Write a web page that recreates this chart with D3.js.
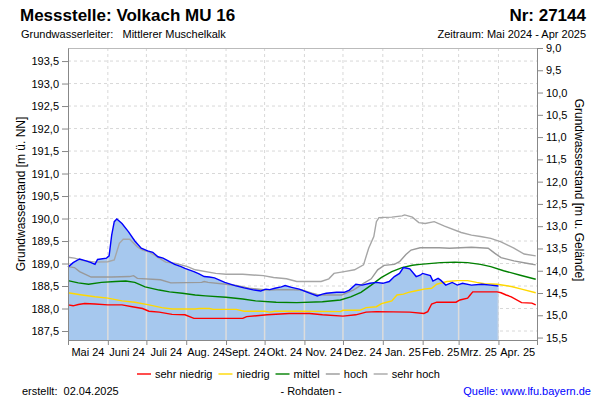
<!DOCTYPE html>
<html><head><meta charset="utf-8">
<script src="https://cdn.jsdelivr.net/npm/d3@7"></script>
<style>body{margin:0;background:#fff} svg{display:block;font-family:"Liberation Sans",Arial,sans-serif}</style>
</head><body><svg id="c" width="600" height="400"></svg>
<script>
const monthLabels = ["Mai 24","Juni 24","Juli 24","Aug. 24","Sept. 24","Okt. 24","Nov. 24","Dez. 24","Jan. 25","Feb. 25","Mrz. 25","Apr. 25"];
const leftTicks = [187.5,188.0,188.5,189.0,189.5,190.0,190.5,191.0,191.5,192.0,192.5,193.0,193.5];
const rightTicks = [9.0,9.5,10.0,10.5,11.0,11.5,12.0,12.5,13.0,13.5,14.0,14.5,15.0,15.5];

const gemessen = [["2024-05-01",188.92],["2024-05-05",189.02],["2024-05-10",189.10],["2024-05-15",189.06],["2024-05-19",189.02],["2024-05-22",188.98],["2024-05-24",189.09],["2024-05-31",189.12],["2024-06-02",189.17],["2024-06-04",189.63],["2024-06-06",189.93],["2024-06-08",189.99],["2024-06-12",189.89],["2024-06-17",189.71],["2024-06-22",189.50],["2024-06-27",189.34],["2024-07-02",189.28],["2024-07-06",189.25],["2024-07-10",189.15],["2024-07-14",189.12],["2024-07-18",189.06],["2024-07-23",188.98],["2024-07-28",188.93],["2024-07-31",188.89],["2024-08-07",188.82],["2024-08-11",188.77],["2024-08-15",188.71],["2024-08-19",188.70],["2024-08-23",188.68],["2024-08-31",188.58],["2024-09-08",188.51],["2024-09-15",188.46],["2024-09-23",188.41],["2024-09-28",188.39],["2024-10-02",188.43],["2024-10-05",188.42],["2024-10-09",188.45],["2024-10-14",188.48],["2024-10-17",188.51],["2024-10-22",188.47],["2024-10-28",188.43],["2024-11-05",188.34],["2024-11-11",188.28],["2024-11-15",188.32],["2024-11-18",188.34],["2024-11-26",188.36],["2024-12-02",188.36],["2024-12-06",188.41],["2024-12-11",188.54],["2024-12-16",188.52],["2024-12-22",188.56],["2024-12-27",188.58],["2025-01-01",188.56],["2025-01-06",188.60],["2025-01-10",188.71],["2025-01-14",188.78],["2025-01-17",188.91],["2025-01-19",188.90],["2025-01-22",188.88],["2025-01-27",188.71],["2025-01-30",188.74],["2025-02-01",188.78],["2025-02-07",188.73],["2025-02-09",188.61],["2025-02-13",188.67],["2025-02-15",188.63],["2025-02-19",188.52],["2025-02-24",188.58],["2025-02-28",188.52],["2025-03-04",188.56],["2025-03-11",188.52],["2025-03-19",188.54],["2025-03-26",188.52],["2025-04-01",188.50]];

const sehrNiedrig = [["2024-05-01",188.08],["2024-05-05",188.06],["2024-05-09",188.09],["2024-05-14",188.11],["2024-05-22",188.10],["2024-06-01",188.08],["2024-06-12",188.08],["2024-06-20",188.04],["2024-06-28",188.00],["2024-07-03",187.94],["2024-07-11",187.92],["2024-07-21",187.87],["2024-07-31",187.86],["2024-08-07",187.78],["2024-09-14",187.78],["2024-09-17",187.82],["2024-10-03",187.86],["2024-10-20",187.89],["2024-11-05",187.89],["2024-11-15",187.86],["2024-12-01",187.83],["2024-12-11",187.86],["2024-12-19",187.92],["2024-12-27",187.93],["2025-01-22",187.92],["2025-02-02",187.89],["2025-02-05",187.93],["2025-02-08",188.10],["2025-02-12",188.14],["2025-02-27",188.14],["2025-03-02",188.19],["2025-03-08",188.23],["2025-03-10",188.30],["2025-03-12",188.37],["2025-03-31",188.37],["2025-04-03",188.35],["2025-04-07",188.30],["2025-04-11",188.26],["2025-04-19",188.13],["2025-04-27",188.12],["2025-04-30",188.08]];

const niedrig = [["2024-05-01",188.35],["2024-05-12",188.30],["2024-05-22",188.26],["2024-06-01",188.23],["2024-06-12",188.17],["2024-06-22",188.14],["2024-07-03",188.08],["2024-07-13",188.02],["2024-07-21",187.99],["2024-08-08",187.99],["2024-08-11",188.00],["2024-08-19",188.00],["2024-08-22",187.98],["2024-09-09",187.98],["2024-09-15",187.94],["2024-10-01",187.94],["2024-10-05",187.92],["2024-10-09",187.94],["2024-10-27",187.94],["2024-11-29",187.93],["2024-12-01",187.96],["2024-12-14",187.96],["2024-12-19",188.02],["2024-12-27",188.04],["2024-12-31",188.11],["2025-01-04",188.14],["2025-01-08",188.17],["2025-01-12",188.30],["2025-01-17",188.32],["2025-01-21",188.36],["2025-01-26",188.39],["2025-02-02",188.43],["2025-02-08",188.45],["2025-02-12",188.54],["2025-02-20",188.60],["2025-02-28",188.62],["2025-03-08",188.62],["2025-03-15",188.58],["2025-03-21",188.55],["2025-03-31",188.54],["2025-04-11",188.49],["2025-04-19",188.43],["2025-04-30",188.35]];

const mittel = [["2024-05-01",188.62],["2024-05-09",188.57],["2024-05-17",188.54],["2024-05-27",188.58],["2024-06-07",188.60],["2024-06-15",188.61],["2024-06-22",188.58],["2024-06-30",188.48],["2024-07-11",188.41],["2024-07-19",188.37],["2024-07-29",188.34],["2024-08-08",188.30],["2024-08-16",188.28],["2024-09-01",188.25],["2024-09-14",188.21],["2024-09-24",188.17],["2024-10-10",188.14],["2024-10-26",188.13],["2024-11-15",188.15],["2024-11-29",188.19],["2024-12-07",188.26],["2024-12-15",188.36],["2024-12-23",188.52],["2024-12-31",188.69],["2025-01-08",188.82],["2025-01-16",188.91],["2025-01-24",188.96],["2025-01-30",188.98],["2025-02-15",189.02],["2025-02-26",189.03],["2025-03-08",189.02],["2025-03-18",188.98],["2025-03-26",188.93],["2025-04-05",188.84],["2025-04-18",188.74],["2025-04-30",188.65]];

const hoch = [["2024-05-01",188.93],["2024-05-06",188.91],["2024-05-10",188.82],["2024-05-19",188.70],["2024-06-04",188.70],["2024-06-18",188.71],["2024-06-21",188.73],["2024-06-24",188.67],["2024-07-12",188.64],["2024-07-20",188.57],["2024-08-13",188.58],["2024-08-15",188.60],["2024-08-18",188.58],["2024-09-01",188.54],["2024-09-09",188.51],["2024-09-19",188.45],["2024-10-03",188.41],["2024-10-17",188.42],["2024-10-30",188.41],["2024-11-07",188.34],["2024-11-12",188.30],["2024-11-30",188.30],["2024-12-09",188.41],["2024-12-13",188.48],["2024-12-17",188.56],["2024-12-23",188.66],["2024-12-28",188.86],["2025-01-02",188.96],["2025-01-10",188.98],["2025-01-14",189.04],["2025-01-19",189.20],["2025-01-23",189.30],["2025-01-30",189.35],["2025-02-14",189.35],["2025-02-22",189.34],["2025-03-11",189.36],["2025-03-24",189.34],["2025-03-29",189.23],["2025-04-03",189.13],["2025-04-13",189.06],["2025-04-24",189.00],["2025-04-30",188.97]];

const sehrHoch = [["2024-05-01",189.14],["2024-05-06",189.12],["2024-05-14",189.06],["2024-05-22",189.03],["2024-06-01",189.04],["2024-06-06",189.08],["2024-06-10",189.45],["2024-06-13",189.54],["2024-06-18",189.54],["2024-06-24",189.37],["2024-06-28",189.30],["2024-07-03",189.26],["2024-07-11",189.12],["2024-07-16",189.03],["2024-07-24",189.00],["2024-08-02",188.93],["2024-08-08",188.86],["2024-08-24",188.78],["2024-09-01",188.76],["2024-09-14",188.76],["2024-09-30",188.73],["2024-10-08",188.69],["2024-10-18",188.66],["2024-10-26",188.60],["2024-11-14",188.60],["2024-11-20",188.66],["2024-11-24",188.78],["2024-12-02",188.82],["2024-12-10",188.86],["2024-12-17",188.97],["2024-12-21",189.34],["2024-12-25",189.60],["2024-12-27",189.93],["2024-12-29",190.02],["2025-01-08",190.03],["2025-01-16",190.06],["2025-01-18",190.08],["2025-01-24",190.03],["2025-01-29",189.91],["2025-02-03",189.89],["2025-02-10",189.93],["2025-02-18",189.83],["2025-03-03",189.69],["2025-03-11",189.63],["2025-03-18",189.60],["2025-03-26",189.56],["2025-04-03",189.48],["2025-04-13",189.34],["2025-04-21",189.21],["2025-04-30",189.17]];

const legendItems = [["sehr niedrig","#ff0000"],["niedrig","#ffd800"],["mittel","#008000"],["hoch","#999999"],["sehr hoch","#a6a6a6"]];

const svg = d3.select("#c");
const m = {left:68, right:537, top:48, bottom:340};
const parse = d3.timeParse("%Y-%m-%d");
const prep = arr => arr.map(d => ({date: parse(d[0]), v: d[1]}));

const x = d3.scaleTime().domain([parse("2024-05-01"), parse("2025-05-01")]).range([m.left, m.right]);
const y = d3.scaleLinear().domain([187.3, 193.79]).range([m.bottom, m.top]);
const y2 = d3.scaleLinear().domain([9.0, 15.555]).range([m.top, m.bottom]);
const loc = d3.formatLocale({decimal:",", thousands:".", grouping:[3], currency:["","€"]});
const fmt = loc.format(".1f");
const monthStarts = d3.timeMonth.range(parse("2024-05-01"), parse("2025-05-02"));

// grid
const grid = svg.append("g");
grid.selectAll("line.h").data(leftTicks).join("line")
  .attr("x1", m.left).attr("x2", m.right).attr("y1", d => y(d)).attr("y2", d => y(d))
  .attr("stroke", "#d8d8d8").attr("stroke-dasharray", "3,3");
grid.selectAll("line.v").data(monthStarts.slice(1, -1)).join("line")
  .attr("x1", d => x(d)).attr("x2", d => x(d)).attr("y1", m.top).attr("y2", m.bottom)
  .attr("stroke", "#d8d8d8").attr("stroke-dasharray", "3,3");

// area
const meas = prep(gemessen);
const area = d3.area().x(d => x(d.date)).y0(m.bottom).y1(d => y(d.v));
svg.append("path").datum(meas).attr("d", area).attr("fill", "#a6c8ee");
svg.append("clipPath").attr("id", "ac").append("path").datum(meas).attr("d", area);
svg.append("g").attr("clip-path", "url(#ac)").selectAll("line").data(monthStarts.slice(1, -1)).join("line")
  .attr("x1", d => x(d)).attr("x2", d => x(d)).attr("y1", m.top).attr("y2", m.bottom)
  .attr("stroke", "#dcdcdc").attr("stroke-width", 1.5);

// statistic lines
const line = d3.line().x(d => x(d.date)).y(d => y(d.v));
[[sehrHoch,"#a6a6a6"],[hoch,"#999999"],[mittel,"#008000"],[niedrig,"#ffd800"],[sehrNiedrig,"#ff0000"]].forEach(([arr,col]) => {
  svg.append("path").datum(prep(arr)).attr("d", line).attr("fill","none").attr("stroke",col).attr("stroke-width",1.4);
});
svg.append("path").datum(meas).attr("d", line).attr("fill","none").attr("stroke","#0000ff").attr("stroke-width",1.4);

// axes
const axCol = "#888";
function styleAxis(g){
  g.selectAll(".domain").attr("stroke", axCol);
  g.selectAll(".tick line").attr("stroke", axCol);
  g.selectAll("text").attr("fill", "#000").style("font-size","11px").style("font-family","Liberation Sans, Arial, sans-serif");
}
svg.append("line").attr("x1", m.left).attr("x2", m.right).attr("y1", m.top+0.5).attr("y2", m.top+0.5).attr("stroke", "#bbb");
svg.append("g").attr("transform", `translate(${m.left},0)`)
  .call(d3.axisLeft(y).tickValues(leftTicks).tickSize(6).tickSizeOuter(0).tickFormat(fmt)).call(styleAxis);
svg.append("g").attr("transform", `translate(${m.right},0)`)
  .call(d3.axisRight(y2).tickValues(rightTicks).tickSize(6).tickSizeOuter(0).tickFormat(fmt)).call(styleAxis);
svg.append("g").attr("transform", `translate(0,${m.bottom})`)
  .call(d3.axisBottom(x).tickValues(monthStarts).tickSize(5).tickSizeOuter(0).tickFormat("")).call(styleAxis);
svg.append("g").selectAll("text").data(monthLabels).join("text")
  .attr("x", (d,i) => (x(monthStarts[i]) + x(monthStarts[i+1])) / 2).attr("y", 356)
  .attr("text-anchor","middle").style("font-size","11px").text(d => d);

// axis titles
svg.append("text").attr("transform","translate(25,194) rotate(-90)").attr("text-anchor","middle")
  .style("font-size","12px").text("Grundwasserstand [m ü. NN]");
svg.append("text").attr("transform","translate(575,190) rotate(90)").attr("text-anchor","middle")
  .style("font-size","12px").text("Grundwasserstand [m u. Gelände]");

// header
svg.append("text").attr("x",20).attr("y",21).style("font-size","17px").style("font-weight","bold").text("Messstelle: Volkach MU 16");
svg.append("text").attr("x",586).attr("y",21).attr("text-anchor","end").style("font-size","17px").style("font-weight","bold").text("Nr: 27144");
svg.append("text").attr("x",21).attr("y",38).style("font-size","11px").attr("xml:space","preserve").text("Grundwasserleiter:   Mittlerer Muschelkalk");
svg.append("text").attr("x",586).attr("y",38).attr("text-anchor","end").style("font-size","11px").text("Zeitraum: Mai 2024 - Apr 2025");

// legend
const lg = svg.append("g");
let lx = 137;
legendItems.forEach(([name,col]) => {
  lg.append("line").attr("x1",lx).attr("x2",lx+14).attr("y1",374).attr("y2",374).attr("stroke",col).attr("stroke-width",1.4);
  const t = lg.append("text").attr("x",lx+18).attr("y",378).style("font-size","11px").text(name);
  lx += 18 + t.node().getComputedTextLength() + 6;
});

// footer
svg.append("text").attr("x",22).attr("y",395).style("font-size","11px").attr("xml:space","preserve").text("erstellt:  02.04.2025");
svg.append("text").attr("x",311).attr("y",395).attr("text-anchor","middle").style("font-size","11px").text("- Rohdaten -");
svg.append("text").attr("x",591).attr("y",395).attr("text-anchor","end").style("font-size","11px").attr("fill","#0000ff").text("Quelle: www.lfu.bayern.de");
</script></body></html>
